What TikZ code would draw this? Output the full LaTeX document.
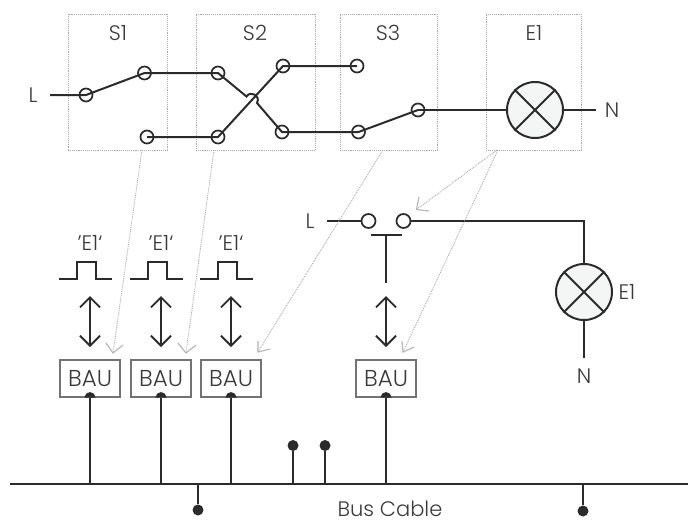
\documentclass[tikz,border=0pt]{standalone}
\usepackage{fontspec}
\setmainfont{Poppins Light}
\usetikzlibrary{arrows.meta}
\definecolor{ink}{HTML}{2B2B2B}
\definecolor{txt}{HTML}{3A3A3A}
\definecolor{dots}{HTML}{A8A8A8}
\definecolor{tip}{HTML}{B0B5B5}
\definecolor{lampfill}{HTML}{F4F6F5}
\tikzset{
 wire/.style={draw=ink,line width=2pt},
 contact/.style={circle,draw=ink,line width=1.7pt,minimum size=13pt,inner sep=0pt},
 zone/.style={draw=dots,line width=.9pt,densely dotted,inner sep=0pt},
 lbl/.style={text=txt,font=\fontsize{21}{24}\selectfont,inner sep=0pt},
 bau/.style={draw=gray!90!black,line width=1.1pt,fill=white,minimum width=60pt,minimum height=37pt,inner sep=0pt,text=txt,font=\fontsize{23}{25}\selectfont},
 hint/.style={draw=dots,line width=.9pt,densely dotted},
 hinthead/.style={draw=tip,line width=1.1pt},
 dual/.style={draw=ink,line width=1.8pt,{Straight Barb[length=10pt,width=20pt,line width=1.8pt]}-{Straight Barb[length=10pt,width=20pt,line width=1.8pt]}},
 dot/.style={circle,fill=ink,minimum size=11pt,inner sep=0pt},
 lamp/.style={circle,draw=ink,line width=2pt,fill=lampfill,minimum size=56pt,inner sep=0pt},
 pulse/.style={draw=ink,line width=1.8pt},
}
\begin{document}
\begin{tikzpicture}[x=1pt,y=-1pt]
\useasboundingbox (0,0) rectangle (688,520);
% zones
\node[zone,minimum width=99pt,minimum height=136pt] (zS1) at (117.5,82) {};
\node[zone,minimum width=119.5pt,minimum height=136pt] (zS2) at (255.7,82) {};
\node[zone,minimum width=97pt,minimum height=136pt] (zS3) at (388.5,82) {};
\node[zone,minimum width=95pt,minimum height=136pt] (zE1) at (533.5,82) {};
\node[lbl] (tS1) at (118,33) {S1};
\node[lbl] (tS2) at (255,33) {S2};
\node[lbl] (tS3) at (388,33) {S3};
\node[lbl] (tE1) at (534,33) {E1};
% top circuit
\node[lbl] (tL) at (33,95) {L};
\coordinate (Lstart) at (50,95);
\coordinate (c1) at (86,95);
\coordinate (c2) at (144.5,73);
\coordinate (c3) at (147,137);
\coordinate (c4) at (218,73);
\coordinate (c5) at (218,137);
\coordinate (c6) at (283,66);
\coordinate (c7) at (282,132);
\coordinate (c8) at (357,66);
\coordinate (c9) at (358.5,132);
\coordinate (c10) at (418,110);
\coordinate (bumpA) at (246.5,96.5);
\coordinate (bumpB) at (257,103);
\draw[wire] (Lstart) -- (c1) -- (c2) -- (c4) -- (bumpA) .. controls (250,90.5) and (261,95) .. (bumpB) -- (c7) -- (c9) -- (c10);
\draw[wire] (c3) -- (c5) -- (c6) -- (c8);
\foreach \c in {c1,c2,c3,c4,c5,c6,c7,c8,c9,c10}
  \node[contact] (n\c) at (\c) {};
\node[lamp] (lampA) at (535,110) {};
\draw[wire] (lampA.45) -- (lampA.225) (lampA.135) -- (lampA.315);
\draw[wire] (c10) -- (lampA.west);
\node[lbl] (tN) at (612,110) {N};
\coordinate (nEnd) at (596,110);
\draw[wire] (lampA.east) -- (nEnd);
% push button
\node[lbl] (tL2) at (310,221) {L};
\node[contact,minimum size=14pt] (p1) at (368.5,221) {};
\node[contact,minimum size=14pt] (p2) at (403.5,221) {};
\coordinate (L2start) at (327,221);
\draw[wire] (L2start) -- (p1.west);
\node[lamp] (lampB) at (584,292) {};
\draw[wire] (lampB.45) -- (lampB.225) (lampB.135) -- (lampB.315);
\draw[wire] (p2.east) -| (lampB.north);
\node[lbl] (tE2) at (627,292) {E1};
\node[lbl] (tN2) at (584,376) {N};
\coordinate (lampBend) at (584,358);
\draw[wire] (lampB.south) -- (lampBend);
\coordinate (barL) at (371,235);
\coordinate (barR) at (402,235);
\coordinate (barM) at (386,235);
\coordinate (barS) at (386,283);
\draw[wire] (barL) -- (barR);
\draw[wire] (barM) -- (barS);
% BAU
\node[bau] (b1) at (90,378.5) {BAU};
\node[bau] (b2) at (161,378.5) {BAU};
\node[bau] (b3) at (231,378.5) {BAU};
\node[bau] (b4) at (386,378.5) {BAU};
% labels and pulses
\foreach \x/\n in {90/1,161/2,231/3}{
  \node[lbl] (q\n) at (\x,243) {’E1‘};
  \coordinate (da\n) at (\x,296);
  \coordinate (db\n) at (\x,347);
  \draw[dual] (da\n) -- (db\n);
  \draw[pulse] (\x-31,279) -- (\x-13,279) -- (\x-13,262) -- (\x+6,262) -- (\x+6,279) -- (\x+22,279);
}
\coordinate (da4) at (386,296);
\coordinate (db4) at (386,347);
\draw[dual] (da4) -- (db4);
% hint arrows
\foreach \s/\t/\a/\b in {142/113/106/123,214/186/178/196}{
  \coordinate (hs) at (\s,150); \coordinate (ht) at (\t,353);
  \draw[hint] (hs) -- (ht);
  \draw[hinthead] (\a,343) -- (ht) -- (\b,345);
}
\coordinate (h3s) at (383,150); \coordinate (h3t) at (258,352);
\draw[hint] (h3s) -- (h3t);
\draw[hinthead] (258,341) -- (h3t) -- (270,349);
\coordinate (h4s) at (497,150); \coordinate (h4t) at (416.5,209.5);
\draw[hint] (h4s) -- (h4t);
\draw[hinthead] (419,197) -- (h4t) -- (429,211);
\coordinate (h5s) at (498,150); \coordinate (h5t) at (403,352);
\draw[hint] (h5s) -- (h5t);
\draw[hinthead] (402,341) -- (h5t) -- (414,347);
% bus
\coordinate (busL) at (10,484);
\coordinate (busR) at (688,484);
\draw[wire] (busL) -- (busR);
\foreach \n in {1,2,3,4}{
  \fill[ink] (b\n.south) ++(-5.5,0) arc[start angle=180,end angle=360,radius=5.5] -- cycle;
  \draw[wire] (b\n.south) -- (b\n.south |- busL);
}
\node[dot] (d1) at (293,445.5) {};
\node[dot] (d2) at (325,445.5) {};
\node[dot] (d3) at (198,510) {};
\node[dot] (d4) at (583,511) {};
\draw[wire] (d1) -- (d1 |- busL);
\draw[wire] (d2) -- (d2 |- busL);
\draw[wire] (d3) -- (d3 |- busL);
\draw[wire] (d4) -- (d4 |- busL);
\node[lbl] (tBus) at (390,508.5) {Bus Cable};
\end{tikzpicture}
\end{document}
